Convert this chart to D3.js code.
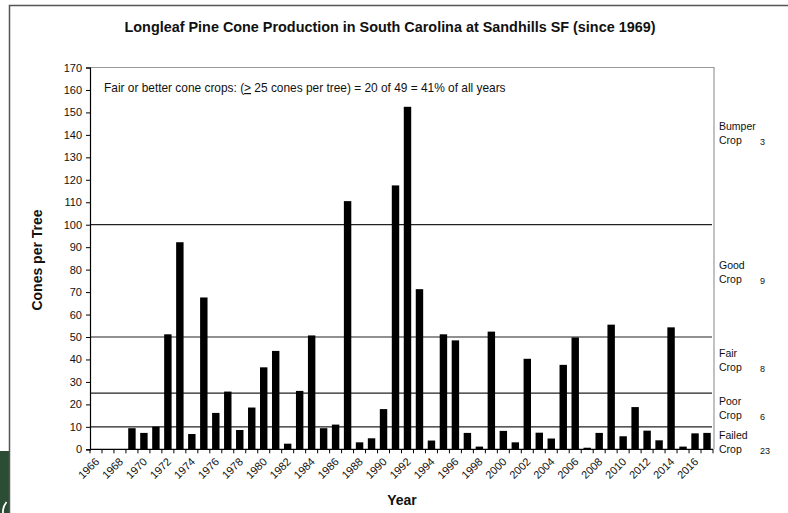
<!DOCTYPE html>
<html><head><meta charset="utf-8">
<script src="https://cdn.jsdelivr.net/npm/d3@7"></script>
<style>
html,body{margin:0;padding:0;background:#fff;}
svg{display:block;font-family:"Liberation Sans",Arial,sans-serif;}
</style></head>
<body>
<svg id="chart" width="788" height="513"></svg>
<script>
const years = [1966,1967,1968,1969,1970,1971,1972,1973,1974,1975,1976,1977,1978,1979,1980,1981,1982,1983,1984,1985,1986,1987,1988,1989,1990,1991,1992,1993,1994,1995,1996,1997,1998,1999,2000,2001,2002,2003,2004,2005,2006,2007,2008,2009,2010,2011,2012,2013,2014,2015,2016,2017];
const cones = [0,0,0,9.4,7.3,10.1,51.2,92.2,6.8,67.6,16.2,25.7,8.6,18.6,36.5,43.8,2.5,26.0,50.7,9.4,11.0,110.5,3.1,4.9,17.9,117.5,152.5,71.3,3.9,51.2,48.5,7.3,1.2,52.4,8.2,3.1,40.3,7.4,4.8,37.6,49.8,0.7,7.3,55.5,5.8,18.8,8.3,4.0,54.3,1.2,7.1,7.3];
const yTicks = [0,10,20,30,40,50,60,70,80,90,100,110,120,130,140,150,160,170];
const thresholds = [10,25,50,100];
const cropNames = ["Bumper","Good","Fair","Poor","Failed"];
const cropCounts = [3,9,8,6,23];
const cropLabelAt = [140.7,78.8,39.6,18.3,3.1];
const titleText = "Longleaf Pine Cone Production in South Carolina at Sandhills SF (since 1969)";
const noteBefore = "Fair or better cone crops: (";
const noteSym = ">";
const noteAfter = " 25 cones per tree) = 20 of 49 = 41% of all years";

const svg = d3.select("#chart");
const L = 90, R = 713, T = 67.5, B = 449.3;

// background frame & corner
svg.append("rect").attr("x",0).attr("y",451).attr("width",9).attr("height",62).attr("fill","#2b4d33");
svg.append("path").attr("d","M6.5,502 Q2.5,507 3,513").attr("fill","none").attr("stroke","#fff").attr("stroke-width",1.8);
svg.append("path").attr("d","M9.5,520 V5.5 H800").attr("fill","none").attr("stroke","#555").attr("stroke-width",1.5);

const x = d3.scaleBand().domain(years).range([L,R]).paddingInner(0.38).paddingOuter(0.19);
const y = d3.scaleLinear().domain([0,170]).range([B,T]);
const step = x.step();
const half = step*x.paddingInner()/2;

// plot border (top & right grey)
svg.append("path").attr("d",`M${L},${y(170)} H${R+1} V${B}`).attr("fill","none").attr("stroke","#999").attr("stroke-width",1.2);

// threshold lines
svg.selectAll("line.th").data(thresholds).join("line")
  .attr("x1",L).attr("x2",R-1).attr("y1",d=>y(d)).attr("y2",d=>y(d))
  .attr("stroke","#222").attr("stroke-width",1.2);

// bars
svg.selectAll("rect.bar").data(years).join("rect").attr("class","bar")
  .attr("x",d=>x(d)).attr("width",x.bandwidth())
  .attr("y",(d,i)=>y(cones[i])).attr("height",(d,i)=>B-y(cones[i]))
  .attr("fill","#000");

// y axis
const yAxis = d3.axisLeft(y).tickValues(yTicks).tickSize(4).tickPadding(4);
const gy = svg.append("g").attr("transform",`translate(${L},0)`).call(yAxis);
gy.select(".domain").attr("stroke","#000").attr("stroke-width",1.2);
gy.selectAll(".tick line").attr("stroke","#000");
gy.selectAll(".tick text").attr("font-size",11).attr("fill","#111").attr("font-family","Liberation Sans, Arial, sans-serif");

// x axis line + ticks at band boundaries
svg.append("line").attr("x1",L).attr("x2",R).attr("y1",B).attr("y2",B).attr("stroke","#000").attr("stroke-width",1.2);
const bounds = years.map(d=>x(d)-half).concat([x(years[years.length-1])+x.bandwidth()+half]);
svg.selectAll("line.xt").data(bounds).join("line")
  .attr("x1",d=>d).attr("x2",d=>d).attr("y1",B).attr("y2",B+4).attr("stroke","#000");
svg.selectAll("text.xl").data(years.filter(d=>d%2===0)).join("text")
  .attr("transform",d=>`translate(${x(d)+x.bandwidth()/2+4},${B+13}) rotate(-45)`)
  .attr("text-anchor","end").attr("font-size",11).attr("fill","#111").text(d=>d);

// title
svg.append("text").attr("x",390).attr("y",32).attr("text-anchor","middle")
  .attr("font-size",14.4).attr("font-weight","bold").attr("fill","#111").text(titleText);

// axis titles
svg.append("text").attr("x",402).attr("y",505).attr("text-anchor","middle")
  .attr("font-size",14).attr("font-weight","bold").attr("fill","#111").text("Year");
svg.append("text").attr("transform","translate(42,260) rotate(-90)").attr("text-anchor","middle")
  .attr("font-size",14).attr("font-weight","bold").attr("fill","#111").text("Cones per Tree");

// note
const note = svg.append("text").attr("x",104).attr("y",92).attr("font-size",11.9).attr("fill","#111");
note.append("tspan").text(noteBefore);
note.append("tspan").attr("text-decoration","underline").text(noteSym);
note.append("tspan").text(noteAfter);

// crop class labels
cropNames.forEach((n,i)=>{
  const yc = y(cropLabelAt[i]);
  svg.append("text").attr("x",719).attr("y",yc-3).attr("font-size",10.5).attr("fill","#111").text(n);
  svg.append("text").attr("x",719).attr("y",yc+11).attr("font-size",10.5).attr("fill","#111").text("Crop");
  svg.append("text").attr("x",760).attr("y",yc+11.5).attr("font-size",9).attr("fill","#111").text(cropCounts[i]);
});
</script>
</body></html>
